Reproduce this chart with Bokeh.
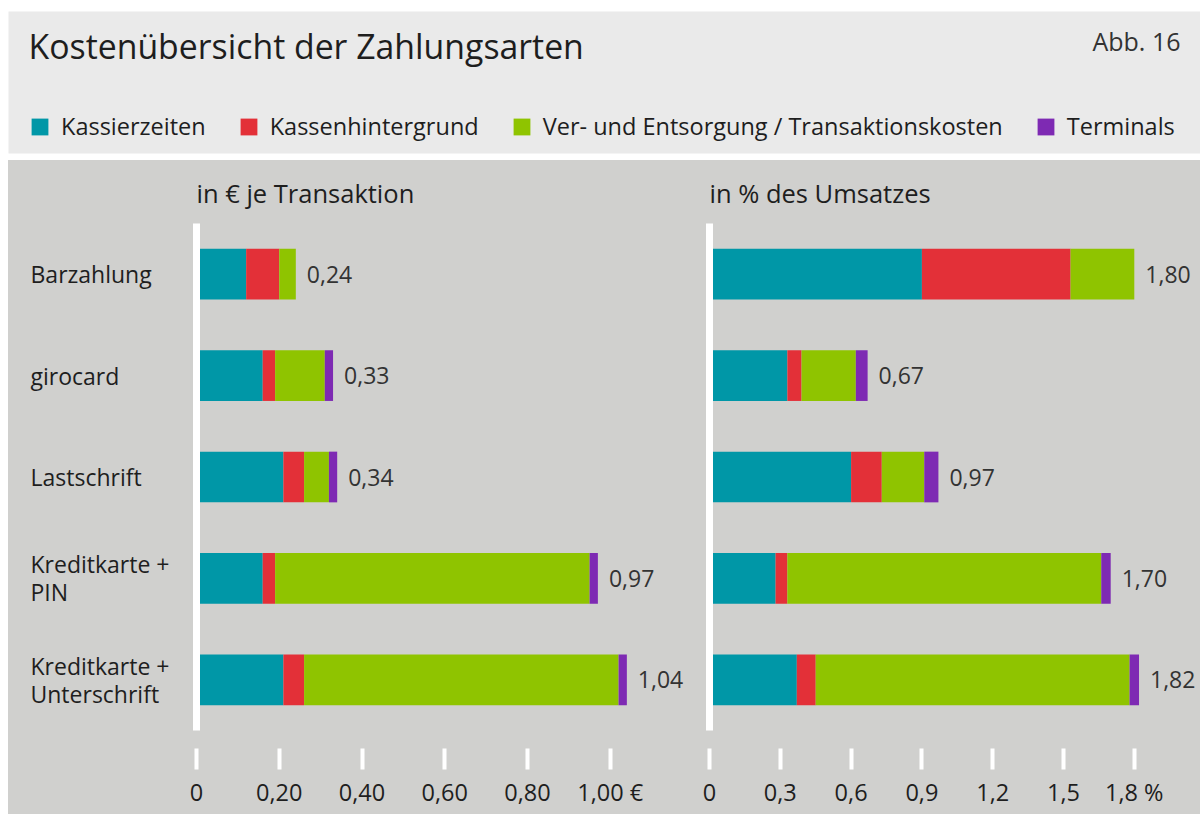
from bokeh.plotting import figure
from bokeh.layouts import column, row
from bokeh.models import (ColumnDataSource, FactorRange, Range1d, FixedTicker,
                          CustomJSTickFormatter, Label, BoxAnnotation,
                          Legend, LegendItem)
from bokeh.core.properties import value
from bokeh.embed import file_html
from bokeh.resources import INLINE

# ---------------- data ----------------
TITLE = "Kostenübersicht der Zahlungsarten"
FIG_NO = "Abb. 16"
PANEL_TITLE_EUR = "in € je Transaktion"
PANEL_TITLE_PCT = "in % des Umsatzes"

categories = ["Barzahlung", "girocard", "Lastschrift",
              "Kreditkarte + PIN", "Kreditkarte + Unterschrift"]
category_labels = ["Barzahlung", "girocard", "Lastschrift",
                   "Kreditkarte +\nPIN", "Kreditkarte +\nUnterschrift"]
series = ["Kassierzeiten", "Kassenhintergrund",
          "Ver- und Entsorgung / Transaktionskosten", "Terminals"]

# costs in EUR per transaction
eur_kassier = [0.12, 0.16, 0.21, 0.16, 0.21]
eur_hinter = [0.08, 0.03, 0.05, 0.03, 0.05]
eur_entsorg = [0.04, 0.12, 0.06, 0.76, 0.76]
eur_terminal = [0.00, 0.02, 0.02, 0.02, 0.02]
eur_total = [0.24, 0.33, 0.34, 0.97, 1.04]

# costs in % of turnover
pct_kassier = [0.90, 0.33, 0.60, 0.28, 0.37]
pct_hinter = [0.63, 0.06, 0.13, 0.05, 0.08]
pct_entsorg = [0.27, 0.23, 0.18, 1.33, 1.33]
pct_terminal = [0.00, 0.05, 0.06, 0.04, 0.04]
pct_total = [1.80, 0.67, 0.97, 1.70, 1.82]

eur_ticks = [0, 0.2, 0.4, 0.6, 0.8, 1.0]
eur_tick_labels = ["0", "0,20", "0,40", "0,60", "0,80", "1,00 €"]
pct_ticks = [0, 0.3, 0.6, 0.9, 1.2, 1.5, 1.8]
pct_tick_labels = ["0", "0,3", "0,6", "0,9", "1,2", "1,5", "1,8 %"]

# ---------------- style ----------------
COLORS = ["#0097a7", "#e33038", "#8fc400", "#7e2ab3"]
HEADER_BG = "#eaeaea"
PANEL_BG = "#d0d0ce"
TEXT = "#1e1e1e"
TEXT2 = "#333333"
FONT = "Open Sans"

W = 1200
HEADER_H = 160
PANEL_H = 654
TOP_B, BOT_B = 58, 84
LABEL_W = 172            # category-label strip (starts at x=8)
LEFT_W, RIGHT_W = 514, 506
LEFT_BORDER, RIGHT_BORDER = 16, 15
EUR_PX, PCT_PX = 413.8, 236.0  # pixels per unit


def fmt(v, nd=2):
    return f"{v:.{nd}f}".replace(".", ",")


# ---------------- header ----------------
header = figure(width=W, height=HEADER_H, x_range=Range1d(0, W),
                y_range=Range1d(HEADER_H, 0), output_backend="svg", title=None,
                toolbar_location=None, x_axis_location=None, y_axis_location=None,
                min_border=0, background_fill_color="white",
                border_fill_color="white", outline_line_color=None)
header.grid.visible = False
header.add_layout(BoxAnnotation(left=8, right=W, top=11, bottom=153,
                                fill_color=HEADER_BG, fill_alpha=1,
                                line_color=None, level="underlay"))
header.add_layout(Label(x=28, y=45.5, text=TITLE, text_font=FONT,
                        text_font_size="33.8px", text_color=TEXT,
                        text_baseline="alphabetic", text_align="left"))
header.add_layout(Label(x=1180, y=40, text=FIG_NO, text_font=FONT,
                        text_font_size="25px", text_color=TEXT2,
                        text_baseline="alphabetic", text_align="right"))

items = []
for name, col in zip(series, COLORS):
    # legend proxy (not visible in the chart area)
    r = header.hbar(y=[0], right=[0], height=0, fill_color=col,
                    line_color=None, visible=False)
    items.append(LegendItem(label=name, renderers=[r]))
legend = Legend(items=items, orientation="horizontal", location=(29, 18),
                glyph_width=21, glyph_height=21, label_height=21,
                label_standoff=11, spacing=32, padding=0, margin=0,
                background_fill_alpha=0, border_line_color=None,
                inactive_fill_alpha=0,
                label_text_font=FONT, label_text_font_size="23.5px",
                label_text_color=TEXT)
header.add_layout(legend, "center")

# ---------------- shared category range ----------------
yr = FactorRange(*list(reversed(categories)), range_padding=0)

# ---------------- category label strip ----------------
labels_fig = figure(width=LABEL_W, height=PANEL_H, title=None,
                    x_range=Range1d(0, 1), y_range=yr, output_backend="svg",
                    toolbar_location=None, x_axis_location=None,
                    y_axis_location=None, min_border_left=0,
                    min_border_right=0, min_border_top=TOP_B,
                    min_border_bottom=BOT_B, background_fill_color=None,
                    border_fill_color=PANEL_BG, outline_line_color=None)
labels_fig.grid.visible = False
lsrc = ColumnDataSource(dict(x=[0] * len(categories), y=categories,
                             text=category_labels))
labels_fig.text(x="x", y="y", text="text", source=lsrc, x_offset=22,
                text_align="left", text_baseline="middle",
                text_font=value(FONT), text_font_size="23px",
                text_color=TEXT, text_line_height=0.87)


# ---------------- panels ----------------
def make_panel(title, width, border_left, px_per_unit, parts, totals,
               ticks, tick_labels):
    x_end = (width - border_left) / px_per_unit
    p = figure(width=width, height=PANEL_H, title=title, y_range=yr,
               x_range=Range1d(0, x_end), output_backend="svg",
               toolbar_location=None,
               min_border_left=border_left, min_border_right=0,
               min_border_top=TOP_B, min_border_bottom=BOT_B,
               background_fill_color=None, border_fill_color=PANEL_BG,
               outline_line_color=None)
    p.grid.visible = False
    p.title.text_font = FONT
    p.title.text_font_size = "25.5px"
    p.title.text_font_style = "normal"
    p.title.text_color = TEXT
    p.title.align = "left"
    p.title.offset = 0
    p.title.standoff = 27

    data = dict(cat=categories, k=parts[0], h=parts[1], e=parts[2], t=parts[3],
                total=totals, label=[fmt(v) for v in totals])
    src = ColumnDataSource(data)
    p.hbar_stack(["k", "h", "e", "t"], y="cat", height=0.5, color=COLORS,
                 line_color=None, source=src)
    p.text(x="total", y="cat", text="label", source=src, x_offset=11,
           text_baseline="middle", text_align="left",
           text_font=value(FONT), text_font_size="23px", text_color=TEXT2)

    # y axis reduced to the white base line at zero (category names are
    # drawn left-aligned in the label strip)
    ya = p.yaxis[0]
    ya.axis_line_color = "white"
    ya.axis_line_width = 7
    ya.major_tick_line_color = None
    ya.minor_tick_line_color = None
    ya.major_tick_in = 0
    ya.major_tick_out = 0
    ya.major_label_standoff = 0
    ya.major_label_text_font_size = "0px"

    xa = p.xaxis[0]
    xa.ticker = FixedTicker(ticks=ticks)
    xa.formatter = CustomJSTickFormatter(
        args=dict(tvals=ticks, tlabels=tick_labels),
        code="""
        for (let i = 0; i < tvals.length; i++) {
            if (Math.abs(tvals[i] - tick) < 1e-9) return tlabels[i];
        }
        return "";
        """)
    xa.axis_line_color = None
    xa.major_tick_line_color = "white"
    xa.major_tick_line_width = 4
    xa.major_tick_in = -18
    xa.major_tick_out = 39
    xa.minor_tick_line_color = None
    xa.major_label_standoff = 6
    xa.major_label_text_font = FONT
    xa.major_label_text_font_size = "23.5px"
    xa.major_label_text_color = TEXT
    return p


left = make_panel(PANEL_TITLE_EUR, LEFT_W, LEFT_BORDER, EUR_PX,
                  [eur_kassier, eur_hinter, eur_entsorg, eur_terminal],
                  eur_total, eur_ticks, eur_tick_labels)
right = make_panel(PANEL_TITLE_PCT, RIGHT_W, RIGHT_BORDER, PCT_PX,
                   [pct_kassier, pct_hinter, pct_entsorg, pct_terminal],
                   pct_total, pct_ticks, pct_tick_labels)

panels = row(labels_fig, left, right, spacing=0, margin=(0, 0, 0, 8),
             styles={"background-color": PANEL_BG})
layout = column(header, panels, spacing=0, styles={"background-color": "white"})

with open("out.html", "w") as f:
    f.write(file_html(layout, INLINE))
